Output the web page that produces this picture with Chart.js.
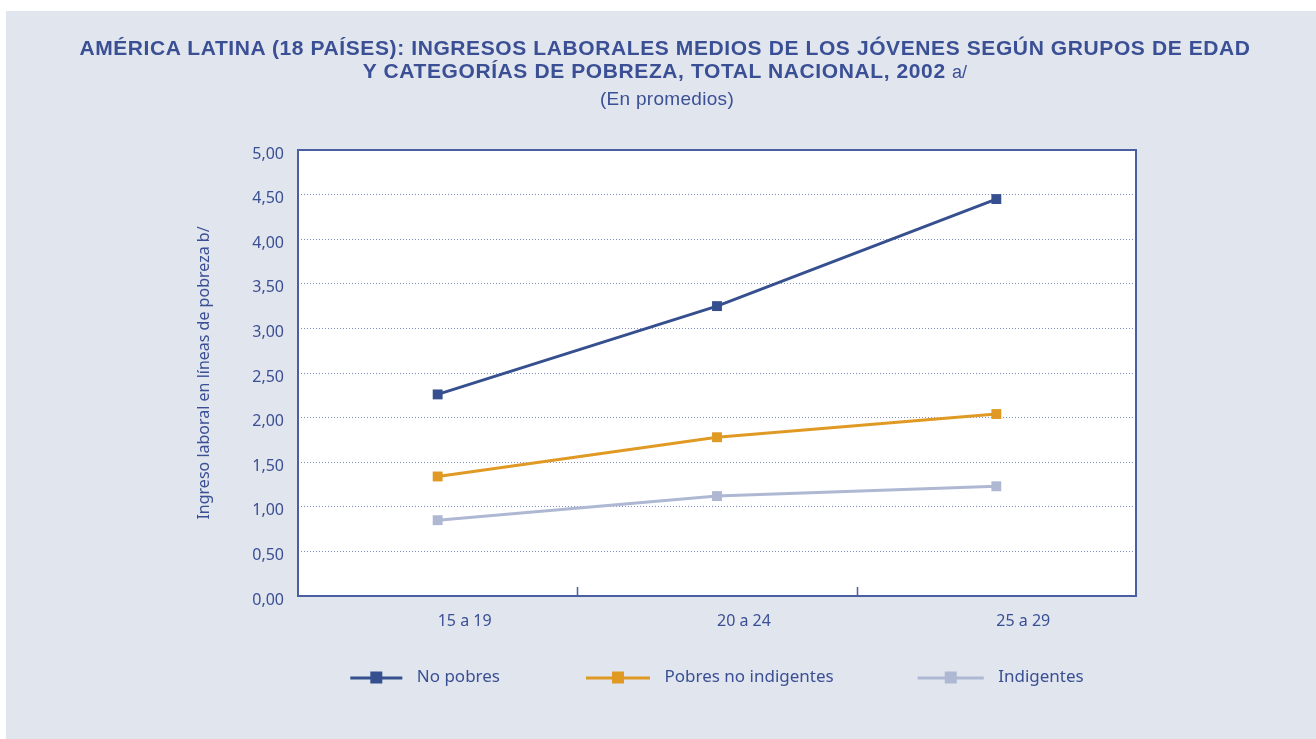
<!DOCTYPE html>
<html>
<head>
<meta charset="utf-8">
<script src="https://cdn.jsdelivr.net/npm/chart.js@4.4.1/dist/chart.umd.min.js"></script>
<style>
  html, body { margin: 0; padding: 0; background: #ffffff; }
  #panel {
    position: absolute; left: 6px; top: 11px; width: 1310px; height: 728px;
    background: #e0e5ee; color: #3a4f94;
  }
  #title {
    position: absolute; left: 4px; top: 25px; width: 100%; text-align: center;
    font-family: "Liberation Sans", Arial, sans-serif;
    font-weight: bold; font-size: 21px; line-height: 23px; letter-spacing: 0.6px;
  }
  #title .note { font-weight: normal; font-size: 18px; letter-spacing: 0; }
  #subtitle {
    position: absolute; left: 6px; top: 79px; width: 100%; text-align: center;
    font-family: "Liberation Sans", Arial, sans-serif;
    font-size: 19px; line-height: 18px; letter-spacing: 0.3px;
  }
  #chart { position: absolute; left: 0; top: 0; }
</style>
</head>
<body>
<div id="panel">
  <canvas id="chart" width="1310" height="728"></canvas>
  <div id="title">AMÉRICA LATINA (18 PAÍSES): INGRESOS LABORALES MEDIOS DE LOS JÓVENES SEGÚN GRUPOS DE EDAD<br>Y CATEGORÍAS DE POBREZA, TOTAL NACIONAL, 2002 <span class="note">a/</span></div>
  <div id="subtitle">(En promedios)</div>
</div>
<script>
// Data
const ageGroups = ["15 a 19", "20 a 24", "25 a 29"];
const noPobres = [2.26, 3.25, 4.45];
const pobresNoIndigentes = [1.34, 1.78, 2.04];
const indigentes = [0.85, 1.12, 1.23];

const seriesNames = ["No pobres", "Pobres no indigentes", "Indigentes"];
const seriesColors = ["#36508f", "#e09a24", "#aeb8d3"];
const legendLineLengths = [52, 64, 66];

const TEXT_COLOR = "#3a4f94";
const FONT = "'Noto Sans', sans-serif";

// legend marker: line with a square in the middle, right aligned in the box
// (blank space on the left gives the gap between legend items)
const LEGEND_BOX = 146;
function legendMarker(color, len) {
  const c = document.createElement("canvas");
  c.width = LEGEND_BOX;
  c.height = 14;
  const ctx = c.getContext("2d");
  const end = LEGEND_BOX - 6;
  ctx.fillStyle = color;
  ctx.fillRect(end - len, 6, len, 3);
  ctx.fillRect(end - len / 2 - 6, 1, 12, 12);
  return c;
}

// white plot background, frame and small category ticks
const plotFrame = {
  id: "plotFrame",
  beforeDraw(chart) {
    const a = chart.chartArea;
    const ctx = chart.ctx;
    ctx.save();
    ctx.fillStyle = "#ffffff";
    ctx.fillRect(a.left, a.top, a.right - a.left, a.bottom - a.top);
    ctx.restore();
  },
  beforeDatasetsDraw(chart) {
    const a = chart.chartArea;
    const ctx = chart.ctx;
    const x = chart.scales.x;
    ctx.save();
    ctx.strokeStyle = "#4a5fa0";
    ctx.lineWidth = 2;
    ctx.strokeRect(a.left, a.top, a.right - a.left, a.bottom - a.top);
    ctx.lineWidth = 1.5;
    for (let i = 0; i < ageGroups.length - 1; i++) {
      const px = Math.round((x.getPixelForValue(i) + x.getPixelForValue(i + 1)) / 2) + 0.5;
      ctx.beginPath();
      ctx.moveTo(px, a.bottom);
      ctx.lineTo(px, a.bottom - 9);
      ctx.stroke();
    }
    ctx.restore();
  },
};

const seriesData = [noPobres, pobresNoIndigentes, indigentes];

new Chart(document.getElementById("chart"), {
  type: "line",
  data: {
    labels: ageGroups,
    datasets: seriesData.map((vals, i) => ({
      label: seriesNames[i],
      data: vals,
      borderColor: seriesColors[i],
      backgroundColor: seriesColors[i],
      borderWidth: 3,
      pointStyle: "rect",
      pointRadius: 7,
      pointBorderWidth: 0,
      pointBackgroundColor: seriesColors[i],
      tension: 0,
    })),
  },
  options: {
    responsive: false,
    animation: false,
    layout: { padding: { left: 204, right: 180, top: 139, bottom: 43 } },
    plugins: {
      title: { display: false },
      tooltip: { enabled: false },
      legend: {
        position: "bottom",
        labels: {
          usePointStyle: true,
          pointStyleWidth: LEGEND_BOX,
          padding: 10,
          color: TEXT_COLOR,
          font: { family: FONT, size: 17 },
          generateLabels(chart) {
            return chart.data.datasets.map((ds, i) => ({
              text: ds.label,
              pointStyle: legendMarker(seriesColors[i], legendLineLengths[i]),
              fillStyle: seriesColors[i],
              strokeStyle: seriesColors[i],
              lineWidth: 0,
              fontColor: TEXT_COLOR,
              datasetIndex: i,
            }));
          },
        },
      },
    },
    scales: {
      x: {
        offset: true,
        grid: { display: false, drawTicks: false },
        border: { display: false },
        ticks: { color: TEXT_COLOR, padding: 16, align: "start", font: { family: FONT, size: 16 } },
        afterFit(scale) { scale.height = 63; },
      },
      y: {
        min: 0,
        max: 5,
        ticks: {
          stepSize: 0.5,
          padding: 14,
          labelOffset: 4,
          color: TEXT_COLOR,
          font: { family: FONT, size: 16 },
          callback: (v) => v.toFixed(2).replace(".", ","),
        },
        grid: { color: "#7f8fc2", lineWidth: 1, drawTicks: false },
        border: { display: false, dash: [1, 2] },
        title: {
          display: true,
          text: "Ingreso laboral en líneas de pobreza b/",
          color: TEXT_COLOR,
          font: { family: FONT, size: 16 },
          padding: { top: -15, bottom: 0 },
        },
        afterFit(scale) { scale.width = 88; },
      },
    },
  },
  plugins: [plotFrame],
});
</script>
</body>
</html>
